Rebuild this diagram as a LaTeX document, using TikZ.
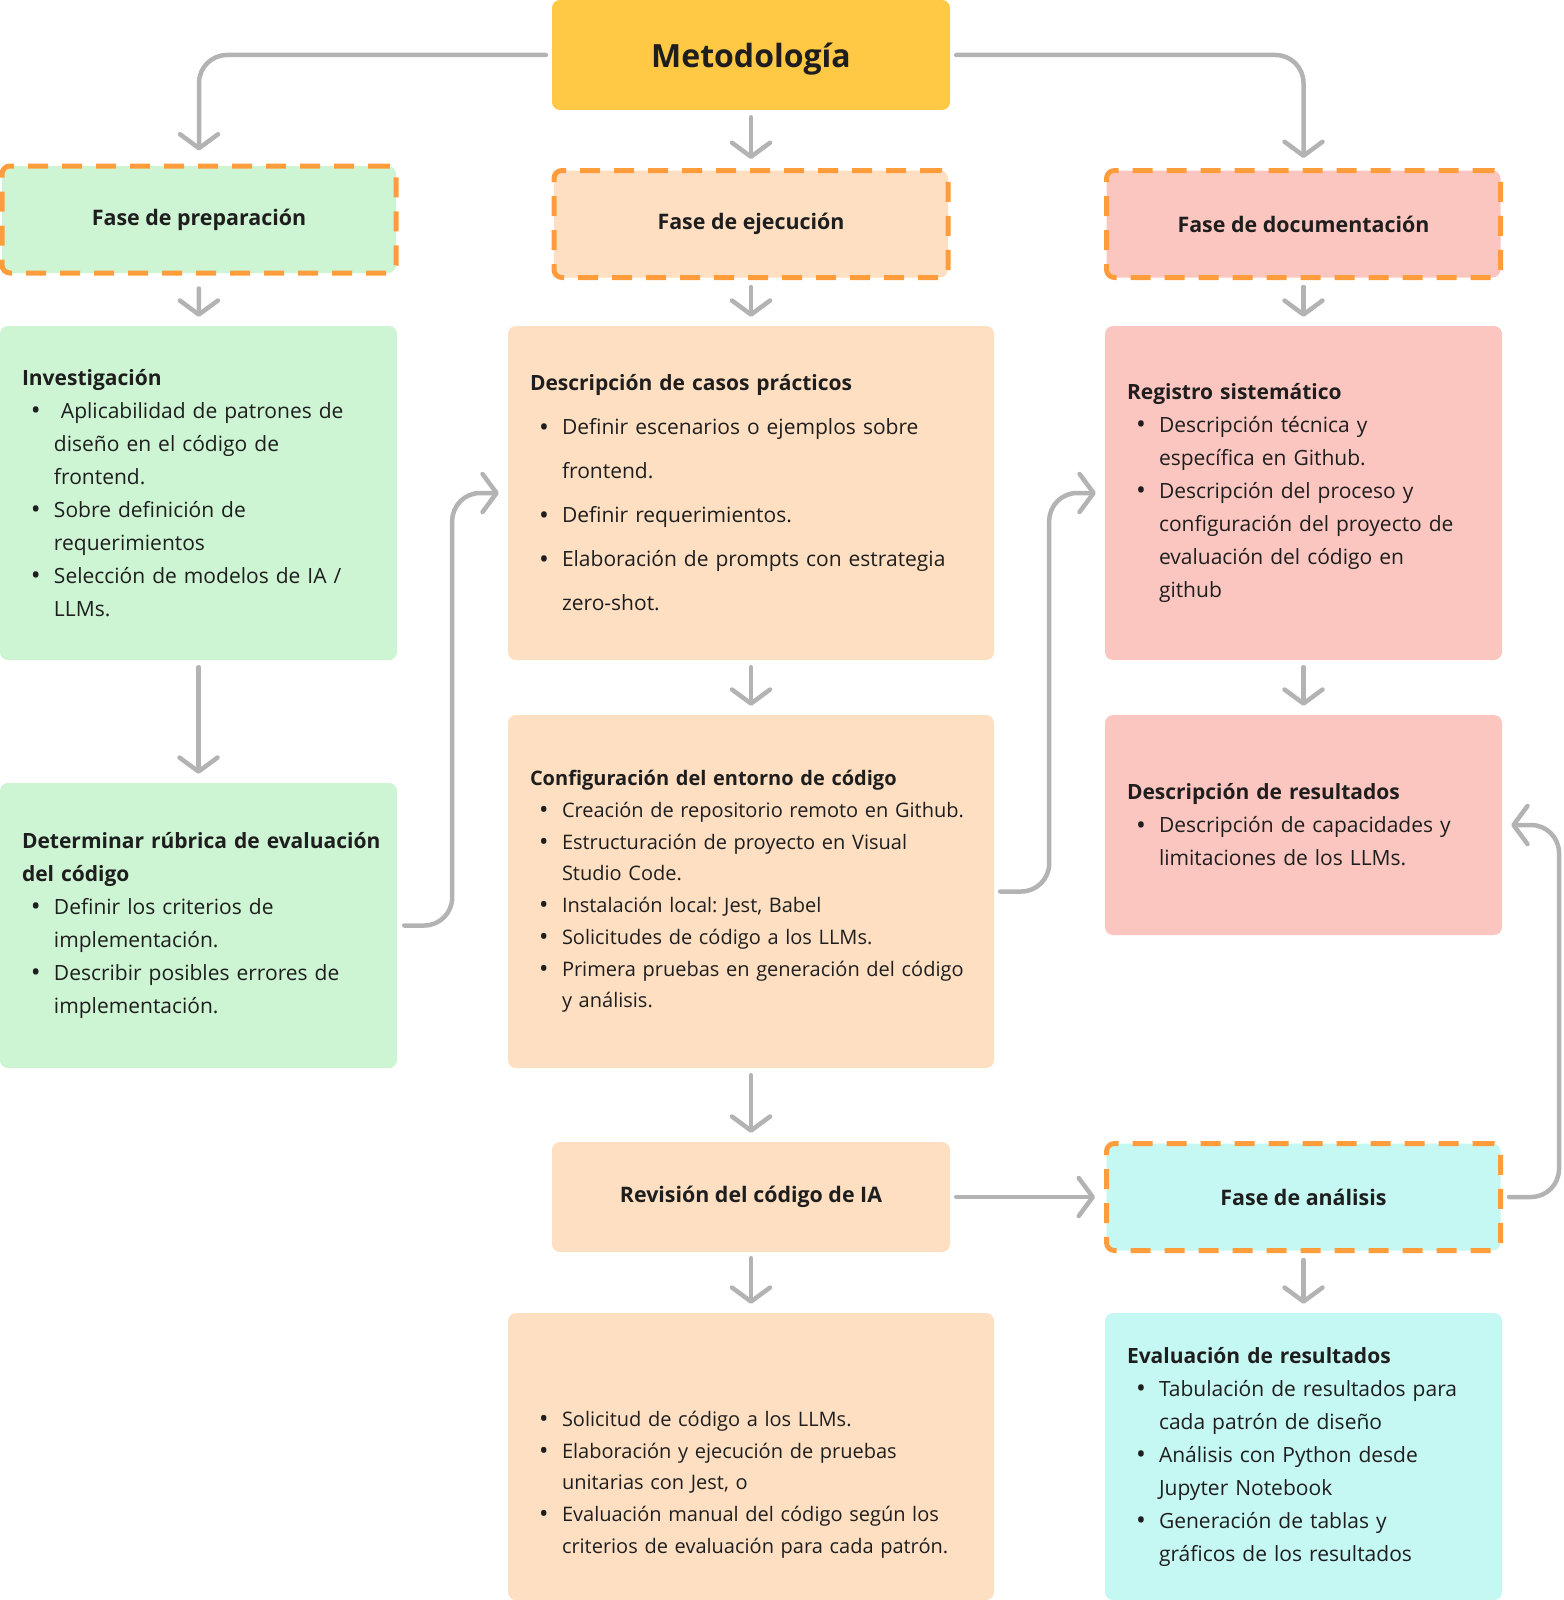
\documentclass[tikz,border=0pt]{standalone}
\usepackage{fontspec}
\setmainfont{Open Sans}
\usepackage{tikz}
\usetikzlibrary{arrows.meta}

\definecolor{amarillo}{HTML}{FFC845}
\definecolor{verde}{HTML}{CDF4D3}
\definecolor{durazno}{HTML}{FFDFC2}
\definecolor{rosa}{HTML}{FCC6C0}
\definecolor{celeste}{HTML}{C6F8F3}
\definecolor{naranja}{HTML}{FF9D3D}
\definecolor{gris}{HTML}{B3B3B3}
\definecolor{tinta}{HTML}{1E1E1E}

\frenchspacing
% item con vineta y sangria colgante
\newcommand{\pitem}{\par\hangindent=32pt\hangafter=1\noindent
  \hbox to 32pt{\hskip 9pt\raisebox{-1.2pt}{\scalebox{1.25}{\textbullet}}\hss}}

\begin{document}
\begin{tikzpicture}
            [x=1pt, y=-1pt,
              caja/.style={rounded corners=8pt, inner xsep=22pt, inner ysep=0pt,
                align=left, text=tinta, font=\fontsize{21}{33}\selectfont},
              fase/.style={draw=naranja, line width=5pt, dash pattern=on 20pt off 14pt,
                rounded corners=8pt, inner sep=0pt, minimum width=394pt,
                minimum height=107pt, text=tinta, font=\bfseries\fontsize{21.4}{26}\selectfont},
              ->/.style={draw=gris, line width=4.5pt, line cap=round, rounded corners=28pt,
                arrows={-Straight Barb[length=14pt, width=38pt, round]},
                shorten <=7pt, shorten >=9pt}]
            \useasboundingbox (0,0) rectangle (1563,1600);
            \node[fill=amarillo, rounded corners=8pt, minimum width=398pt, minimum height=110pt,
              text depth=0pt, text=tinta, font=\bfseries\fontsize{32}{38}\selectfont] (met) at (751,55) {Metodología};
            \node[fase, fill=verde] (prep) at (199,219.5) {Fase de preparación};
            \node[fase, fill=durazno] (ejec) at (751,224) {Fase de ejecución};
            \node[fase, fill=rosa] (doc) at (1303.5,224) {Fase de documentación};
            \node[caja, fill=verde, text width=353pt, minimum height=334pt] (inv) at (198.5,493)
              {\textbf{Investigación}
               \pitem\ Aplicabilidad de patrones de\newline diseño en el código de\newline frontend.
               \pitem Sobre definición de\newline requerimientos
               \pitem Selección de modelos de IA /\newline LLMs.\par};
            \node[caja, fill=verde, text width=353pt, minimum height=285pt] (det) at (198.5,925.5)
              {\mbox{\textbf{Determinar rúbrica de evaluación}}\newline \textbf{del código}
               \pitem Definir los criterios de\newline implementación.
               \pitem Describir posibles errores de\newline implementación.\par};
            \node[caja, fill=durazno, text width=442pt, minimum height=334pt,
              font=\fontsize{21}{44}\selectfont] (casos) at (751,493)
              {\textbf{Descripción de casos prácticos}
               \pitem Definir escenarios o ejemplos sobre\newline frontend.
               \pitem Definir requerimientos.
               \pitem Elaboración de prompts con estrategia\newline zero-shot.\par};
            \node[caja, fill=durazno, text width=442pt, minimum height=353pt,
              font=\fontsize{20}{31.7}\selectfont] (conf) at (751,891.5)
              {\textbf{Configuración del entorno de código}
               \pitem Creación de repositorio remoto en Github.
               \pitem Estructuración de proyecto en Visual\newline Studio Code.
               \pitem Instalación local: Jest, Babel
               \pitem Solicitudes de código a los LLMs.
               \pitem Primera pruebas en generación del código\newline y análisis.\par};
            \node[caja, fill=durazno, inner sep=0pt, minimum width=398pt, minimum height=110pt,
              align=center, font=\bfseries\fontsize{21.4}{26}\selectfont] (rev) at (751,1197)
              {Revisión del código de IA};
            \node[caja, fill=durazno, text width=442pt, minimum height=287pt,
              font=\fontsize{20}{31.7}\selectfont] (prue) at (751,1456.5)
              {\vspace*{40pt}
               \pitem Solicitud de código a los LLMs.
               \pitem Elaboración y ejecución de pruebas\newline unitarias con Jest, o
               \pitem Evaluación manual del código según los\newline criterios de evaluación para cada patrón.\par};
            \node[caja, fill=rosa, text width=353pt, minimum height=334pt] (reg) at (1303.5,493)
              {\textbf{Registro sistemático}
               \pitem Descripción técnica y\newline específica en Github.
               \pitem Descripción del proceso y\newline configuración del proyecto de\newline
                 evaluación del código en\newline github\par};
            \node[caja, fill=rosa, text width=353pt, minimum height=220pt] (desres) at (1303.5,825)
              {\textbf{Descripción de resultados}
               \pitem Descripción de capacidades y\newline limitaciones de los LLMs.\par};
            \node[fase, fill=celeste] (anal) at (1303.5,1197) {Fase de análisis};
            \node[caja, fill=celeste, text width=353pt, minimum height=287pt] (eval) at (1303.5,1456.5)
              {\textbf{Evaluación de resultados}
               \pitem Tabulación de resultados para\newline cada patrón de diseño
               \pitem Análisis con Python desde\newline Jupyter Notebook
               \pitem Generación de tablas y\newline gráficos de los resultados\par};
            \draw[->, shorten <=6pt, shorten >=13pt] (met.west) -| (prep.north);
            \draw[->, shorten <=6pt, shorten >=10pt] (met.east) -| (doc.north);
            \draw[->] (met) to (ejec);
            \draw[->, shorten <=13pt] (prep) to (inv);
            \draw[->] (ejec) to (casos);
            \draw[->] (doc) to (reg);
            \draw[->] (inv) to (det);
            \draw[->] (casos) to (conf);
            \draw[->] (reg) to (desres);
            \draw[->] (det.east) -- ++(55,0) |- (casos.west);
            \draw[->, shorten <=6pt] (conf.east) -- ++(55,0) |- (reg.west);
            \draw[->] (conf) to (rev);
            \draw[->, shorten <=6pt] (rev) to (anal);
            \draw[->, shorten <=6pt] (rev) to (prue);
            \draw[->, shorten <=6pt] (anal.east) -- ++(56,0) |- (desres.east);
            \draw[->] (anal) to (eval);
        \end{tikzpicture}
\end{document}
